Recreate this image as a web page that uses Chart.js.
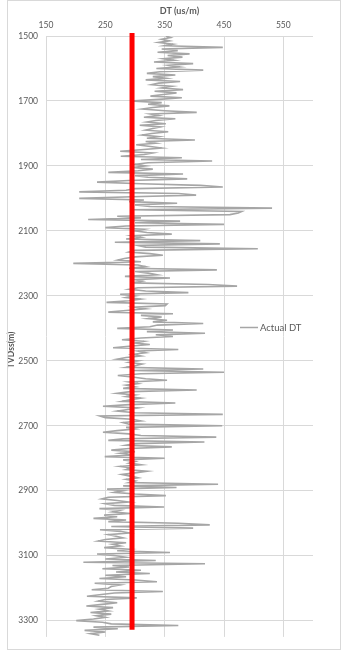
<!DOCTYPE html>
<html>
<head>
<meta charset="utf-8">
<script src="https://cdn.jsdelivr.net/npm/chart.js@4.4.1/dist/chart.umd.min.js"></script>
<style>
html,body{margin:0;padding:0;background:#fff;}
#wrap{position:relative;width:342px;height:650px;}
#frame{position:absolute;left:7px;top:0;width:332px;height:648px;border:1px solid #d9d9d9;pointer-events:none;}
canvas{position:absolute;left:0;top:0;}
</style>
</head>
<body>
<div id="wrap"><canvas id="c" width="342" height="650"></canvas><div id="frame"></div></div>
<script>
// Depth samples (m TVDss)
const depthM = [
1500,1505,1510,1515,1520,1525,1530,1535,1540,1545,1550,1555,1560,1565,1570,1575,1580,1585,1590,1595,
1600,1605,1610,1615,1620,1625,1630,1635,1640,1645,1650,1655,1660,1665,1670,1675,1680,1685,1690,1695,
1700,1705,1710,1715,1720,1725,1730,1735,1740,1745,1750,1755,1760,1765,1770,1775,1780,1785,1790,1795,
1800,1805,1810,1815,1820,1825,1830,1835,1840,1845,1850,1855,1860,1865,1870,1875,1880,1885,1890,1895,
1900,1905,1910,1915,1920,1925,1930,1935,1940,1945,1950,1955,1960,1965,1970,1975,1980,1985,1990,1995,
2000,2005,2010,2015,2020,2025,2030,2035,2040,2045,2050,2055,2060,2065,2070,2075,2080,2085,2090,2095,
2100,2105,2110,2115,2120,2125,2130,2135,2140,2145,2150,2155,2160,2165,2170,2175,2180,2185,2190,2195,
2200,2205,2210,2215,2220,2225,2230,2235,2240,2245,2250,2255,2260,2265,2270,2275,2280,2285,2290,2295,
2300,2305,2310,2315,2320,2325,2330,2335,2340,2345,2350,2355,2360,2365,2370,2375,2380,2385,2390,2395,
2400,2405,2410,2415,2420,2425,2430,2435,2440,2445,2450,2455,2460,2465,2470,2475,2480,2485,2490,2495,
2500,2505,2510,2515,2520,2525,2530,2535,2540,2545,2550,2555,2560,2565,2570,2575,2580,2585,2590,2595,
2600,2605,2610,2615,2620,2625,2630,2635,2640,2645,2650,2655,2660,2665,2670,2675,2680,2685,2690,2695,
2700,2705,2710,2715,2720,2725,2730,2735,2740,2745,2750,2755,2760,2765,2770,2775,2780,2785,2790,2795,
2800,2805,2810,2815,2820,2825,2830,2835,2840,2845,2850,2855,2860,2865,2870,2875,2880,2885,2890,2895,
2900,2905,2910,2915,2920,2925,2930,2935,2940,2945,2950,2955,2960,2965,2970,2975,2980,2985,2990,2995,
3000,3005,3010,3015,3020,3025,3030,3035,3040,3045,3050,3055,3060,3065,3070,3075,3080,3085,3090,3095,
3100,3105,3110,3115,3120,3125,3130,3135,3140,3145,3150,3155,3160,3165,3170,3175,3180,3185,3190,3195,
3200,3205,3210,3215,3220,3225,3230,3235,3240,3245,3250,3255,3260,3265,3270,3275,3280,3285,3290,3295,
3300,3305,3310,3315,3320,3325,3330,3335,3340,3345
];
// Actual DT (us/m)
const actualDT = [
352,360,345,358,340,364,350,448,345,372,338,392,355,380,348,366,332,398,357,375,
336,415,342,320,368,330,352,318,376,340,328,362,345,381,333,370,348,326,379,340,
292,345,322,358,330,312,350,404,326,340,315,368,335,320,352,308,343,330,318,356,
328,312,340,320,401,318,335,302,326,345,310,275,330,316,276,379,310,430,322,300,
318,295,330,305,255,381,300,322,388,290,236,310,410,448,300,285,206,373,403,295,
206,315,290,371,300,325,531,295,480,474,460,270,310,221,376,300,450,285,250,315,
300,320,362,295,310,285,410,266,443,305,318,507,300,290,325,347,300,282,271,310,
196,305,318,290,438,300,322,337,283,359,300,312,295,423,472,305,290,318,390,275,
300,285,310,290,252,354,351,300,318,285,255,364,310,345,322,354,330,415,338,325,
270,364,320,418,335,364,310,278,315,300,325,290,263,373,305,318,296,310,285,270,
305,290,312,300,285,415,298,450,310,271,295,318,354,290,305,285,300,280,404,292,
270,300,285,310,292,278,368,290,246,305,288,270,300,448,241,250,295,310,280,290,
447,285,300,270,246,290,310,437,280,255,417,300,285,362,290,260,300,275,295,249,
350,280,300,290,310,275,295,285,320,300,278,292,305,285,300,290,440,280,370,253,
280,265,300,352,255,244,270,290,250,265,349,240,275,262,292,248,270,230,285,255,
373,426,260,398,241,275,290,255,268,280,250,238,285,262,275,248,290,270,359,236,
268,285,250,335,213,418,262,290,245,310,268,325,250,285,240,300,337,232,275,260,
255,227,347,265,240,219,303,250,238,270,245,218,263,240,255,225,260,235,250,230,
201,245,260,373,230,271,215,250,225,240
];
// Red reference line
const refDepth = [1491, 3328];
const refDT = [295, 295];
// Tick labels
const xTicks = [150, 250, 350, 450, 550];
const yTicks = [1500, 1700, 1900, 2100, 2300, 2500, 2700, 2900, 3100, 3300];

const txt = '#595959';
const grid = '#d9d9d9';

const legendPlugin = {
  id: 'legendAndTitle',
  afterDraw(chart) {
    const ctx = chart.ctx;
    ctx.save();
    // legend
    ctx.strokeStyle = '#a6a6a6';
    ctx.lineWidth = 1.5;
    ctx.beginPath();
    ctx.moveTo(240, 327.5);
    ctx.lineTo(258, 327.5);
    ctx.stroke();
    ctx.fillStyle = txt;
    ctx.font = '9.5px Lato';
    ctx.textBaseline = 'middle';
    ctx.textAlign = 'left';
    ctx.fillText('Actual DT', 260, 327.5);
    // y axis title
    ctx.translate(11, 350);
    ctx.rotate(-Math.PI / 2);
    ctx.textAlign = 'center';
    ctx.font = 'bold 8.5px Lato';
    ctx.fillText('TVDss(m)', 0, 0);
    ctx.restore();
  }
};

new Chart(document.getElementById('c'), {
  type: 'scatter',
  data: {
    datasets: [
      {
        label: 'Ref',
        data: refDepth.map((d, i) => ({ x: refDT[i], y: d })),
        showLine: true,
        borderColor: '#ff0000',
        borderWidth: 5,
        pointRadius: 0,
        borderCapStyle: 'butt',
        clip: false,
        order: 0
      },
      {
        label: 'Actual DT',
        data: depthM.map((d, i) => ({ x: actualDT[i], y: d })),
        showLine: true,
        borderColor: '#a6a6a6',
        borderWidth: 1.6,
        pointRadius: 0,
        tension: 0,
        order: 1
      }
    ]
  },
  options: {
    responsive: false,
    animation: false,
    events: [],
    layout: { padding: { left: 0, right: 29, top: 0, bottom: 13 } },
    plugins: { legend: { display: false }, tooltip: { enabled: false } },
    scales: {
      x: {
        type: 'linear',
        position: 'top',
        min: 150,
        max: 600,
        afterBuildTicks: (s) => { s.ticks = xTicks.map(v => ({ value: v })); },
        afterFit: (s) => { s.height = 36; },
        ticks: { color: txt, font: { family: 'Lato', size: 8.5 }, padding: 6, maxRotation: 0, callback: (v) => String(v) },
        grid: { color: grid, lineWidth: 1, drawTicks: false },
        border: { display: false },
        title: { display: true, text: 'DT (us/m)', color: txt, font: { family: 'Lato', size: 9, weight: 'bold' }, padding: { top: 6, bottom: 2 } }
      },
      y: {
        type: 'linear',
        reverse: true,
        min: 1500,
        max: 3350,
        afterBuildTicks: (s) => { s.ticks = yTicks.map(v => ({ value: v })); },
        afterFit: (s) => { s.width = 46; },
        ticks: { color: txt, font: { family: 'Lato', size: 8.5 }, padding: 8, callback: (v) => String(v) },
        grid: { color: grid, lineWidth: 1, drawTicks: false },
        border: { display: false }
      }
    }
  },
  plugins: [legendPlugin]
});
</script>
</body>
</html>
